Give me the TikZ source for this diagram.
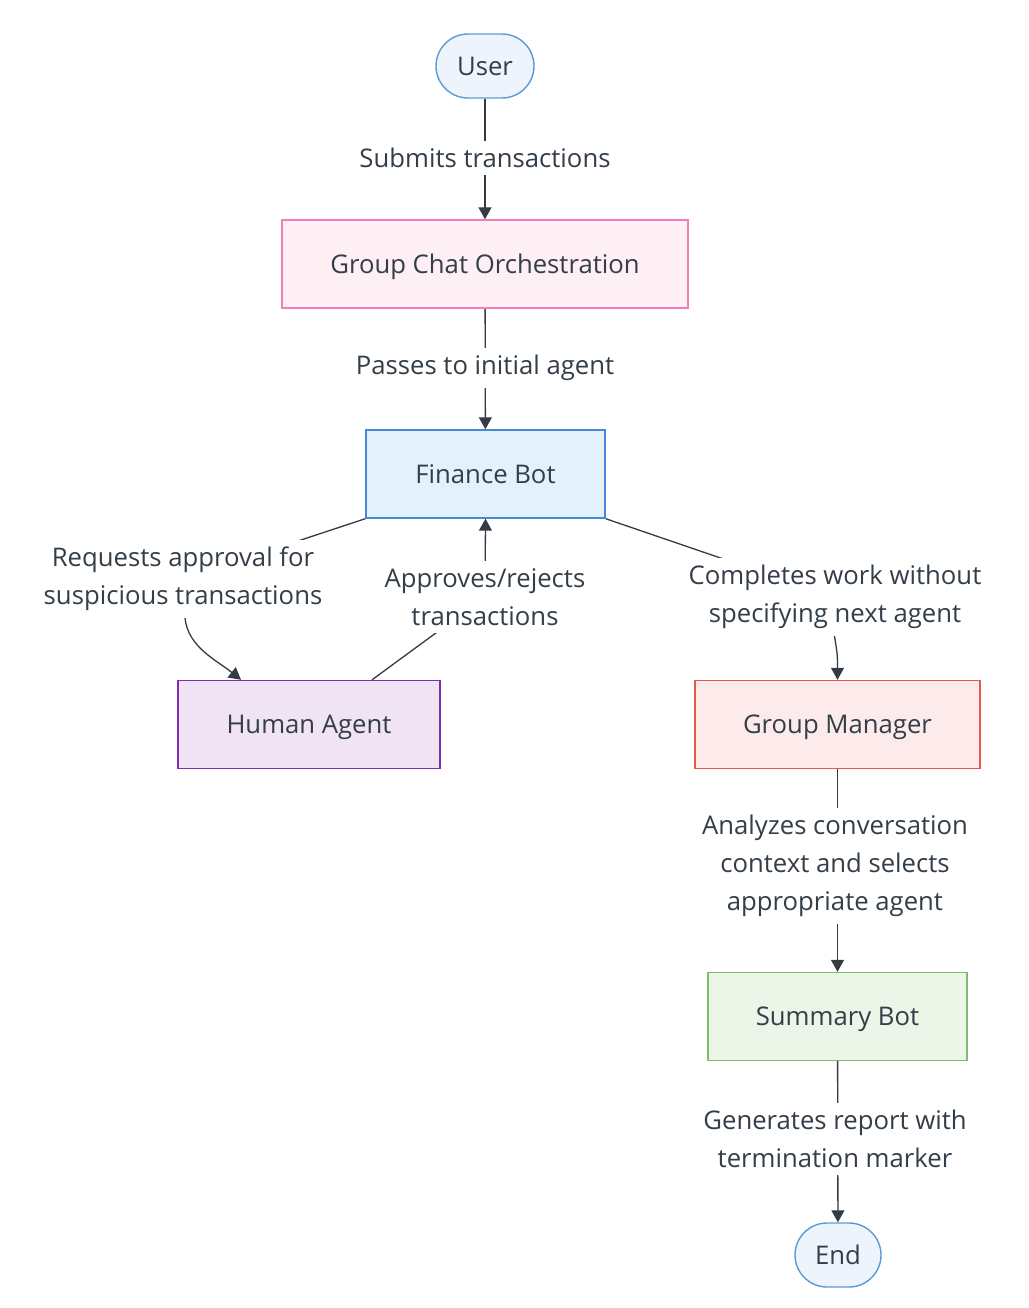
\documentclass[tikz,border=0pt]{standalone}
\usepackage{fontspec}
\setmainfont{Open Sans}
\usetikzlibrary{arrows.meta,calc}
\definecolor{txt}{HTML}{333E48}
\definecolor{edge}{HTML}{333B45}
\definecolor{termfill}{HTML}{EEF4FC}\definecolor{termdraw}{HTML}{5B9BD5}
\definecolor{gcofill}{HTML}{FDEFF4}\definecolor{gcodraw}{HTML}{F27EB8}
\definecolor{fbfill}{HTML}{E3F1FB}\definecolor{fbdraw}{HTML}{4A88D6}
\definecolor{hafill}{HTML}{F0E4F4}\definecolor{hadraw}{HTML}{7E2FAD}
\definecolor{gmfill}{HTML}{FDEBEC}\definecolor{gmdraw}{HTML}{E8574A}
\definecolor{sbfill}{HTML}{EBF5E8}\definecolor{sbdraw}{HTML}{7DBE6A}
\pgfdeclarelayer{bg}\pgfsetlayers{bg,main}
\tikzset{
  base/.style={font=\fontsize{25.7}{38}\selectfont, text=txt, align=center, inner sep=0pt},
  term/.style={base, draw=termdraw, fill=termfill, line width=1.4pt, rounded corners=32pt, minimum height=64pt, text height=24pt, text depth=5.6pt},
  boxnode/.style={base, line width=1.4pt, minimum height=88pt, text height=24pt, text depth=5.6pt},
  elabel/.style={base, fill=white, inner xsep=16pt, inner ysep=7pt},
  arr/.style={draw=edge, line width=1.3pt, -{Triangle[length=12pt,width=13pt]}},
}
\begin{document}
\begin{tikzpicture}[x=1pt,y=-1pt]
\useasboundingbox (0,0) rectangle (1028,1308);
% nodes
\node[term, minimum width=98pt] (user) at (485,66) {User};
\node[boxnode, draw=gcodraw, fill=gcofill, minimum width=406pt] (gco) at (485,264) {Group Chat Orchestration};
\node[boxnode, draw=fbdraw, fill=fbfill, minimum width=239pt] (fb) at (485.5,474) {Finance Bot};
\node[boxnode, draw=hadraw, fill=hafill, minimum width=262pt] (ha) at (309,724.5) {Human Agent};
\node[boxnode, draw=gmdraw, fill=gmfill, minimum width=285pt] (gm) at (837.5,724.5) {Group Manager};
\node[boxnode, draw=sbdraw, fill=sbfill, minimum width=259pt] (sb) at (837.5,1016.5) {Summary Bot};
\node[term, minimum width=86pt] (end) at (838,1255) {End};
% edge labels
\node[elabel] (l1) at (485,158) {Submits transactions};
\node[elabel] (l2) at (485,368) {Passes to initial agent};
\node[elabel] (l3) at (183,579) {Requests approval for\\suspicious transactions};
\node[elabel] (l4) at (485,597) {Approves/rejects\\transactions};
\node[elabel] (l5) at (835,597) {Completes work without\\specifying next agent};
\node[elabel] (l6) at (835,866) {Analyzes conversation\\context and selects\\appropriate agent};
\node[elabel] (l7) at (835,1139) {Generates report with\\termination marker};
% coordinates
\coordinate (haIn) at ($(ha.north)+(-68,0)$);
\coordinate (haOut) at ($(ha.north)+(63,0)$);
% connectors
\begin{pgfonlayer}{bg}
\draw[arr] (user) -- (gco);
\draw[arr] (gco) -- (fb);
\draw[arr] (fb.south west) -- (l3.center) -- ($(l3.center)+(2,39)$) .. controls ($(l3.center)+(5,68)$) and ($(haIn)+(-25,-20)$) .. (haIn);
\draw[arr] (haOut) -- (l4.center) -- (fb.south);
\draw[arr] (fb.south east) -- ($(gm.north |- l5.center)+(-3,0)$) -- ($(gm.north |- l5.center)+(-3,39)$) .. controls ($(gm.north |- l5.center)+(0,58)$) .. (gm.north);
\draw[arr] (gm) -- (sb);
\draw[arr] (sb) -- (end);
\end{pgfonlayer}
\end{tikzpicture}
\end{document}
